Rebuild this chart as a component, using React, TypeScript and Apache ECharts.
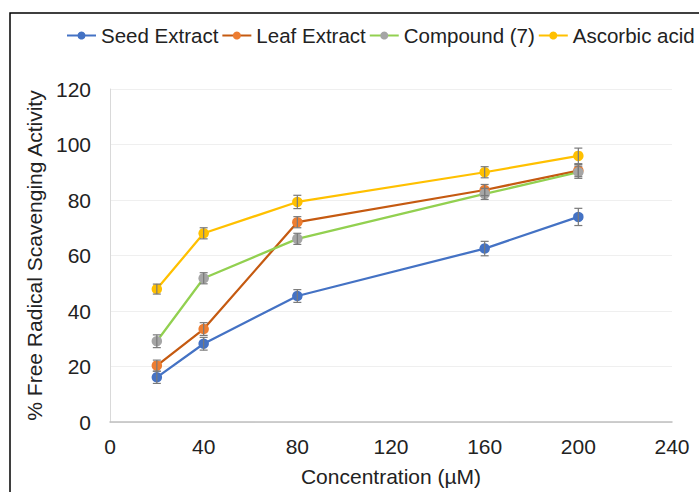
import React, { useEffect, useRef } from "react";
import * as echarts from "echarts";

const concentrations = [20, 40, 80, 160, 200];
const seriesNames = ["Seed Extract", "Leaf Extract", "Compound (7)", "Ascorbic acid"];
const seedValues = [16.1, 28.2, 45.4, 62.5, 73.9];
const leafValues = [20.3, 33.5, 72.0, 83.6, 90.6];
const compoundValues = [29.1, 51.8, 66.0, 82.2, 90.0];
const ascorbicValues = [47.9, 68.0, 79.3, 90.0, 95.9];
const seedErrors = [2.2, 2.3, 2.3, 2.6, 3.1];
const leafErrors = [2.0, 2.3, 2.0, 2.0, 2.2];
const compoundErrors = [2.3, 2.0, 2.0, 2.0, 2.2];
const ascorbicErrors = [1.8, 2.0, 2.4, 2.0, 2.8];
const lineColors = ["#4472C4", "#C55A11", "#92D050", "#FFC000"];
const markerColors = ["#4472C4", "#ED7D31", "#A5A5A5", "#FFC000"];

const FONT = "'Liberation Sans', Arial, sans-serif";

export default function App() {
  const ref = useRef<HTMLDivElement>(null);
  useEffect(() => {
    if (!ref.current) return;
    const chart = echarts.init(ref.current, null, { renderer: "svg" });
    const values = [seedValues, leafValues, compoundValues, ascorbicValues];
    const errors = [seedErrors, leafErrors, compoundErrors, ascorbicErrors];

    const lineSeries = values.map((vals, i) => ({
      name: seriesNames[i],
      type: "line",
      data: concentrations.map((c, j) => [c, vals[j]]),
      symbol: "circle",
      symbolSize: 10.5,
      lineStyle: { color: lineColors[i], width: 2.25 },
      itemStyle: { color: markerColors[i] },
      z: 2,
    }));

    const errorSeries = values.map((vals, i) => ({
      type: "custom",
      name: "err" + i,
      data: concentrations.map((c, j) => [c, vals[j] - errors[i][j], vals[j] + errors[i][j]]),
      renderItem: (params: any, api: any) => {
        const lo = api.coord([api.value(0), api.value(1)]);
        const hi = api.coord([api.value(0), api.value(2)]);
        const w = 4;
        const style = { stroke: "#7a7a7a", lineWidth: 1.2 };
        return {
          type: "group",
          children: [
            { type: "line", shape: { x1: lo[0], y1: lo[1], x2: hi[0], y2: hi[1] }, style },
            { type: "line", shape: { x1: lo[0] - w, y1: lo[1], x2: lo[0] + w, y2: lo[1] }, style },
            { type: "line", shape: { x1: hi[0] - w, y1: hi[1], x2: hi[0] + w, y2: hi[1] }, style },
          ],
        };
      },
      z: 3,
      silent: true,
    }));

    chart.setOption({
      animation: false,
      backgroundColor: "#ffffff",
      textStyle: { fontFamily: FONT },
      graphic: [
        {
          type: "rect",
          shape: { x: 10, y: 13, width: 800, height: 600 },
          style: { fill: "none", stroke: "#000000", lineWidth: 1.5 },
          z: -1,
        },
      ],
      legend: {
        data: seriesNames,
        top: 25,
        left: 66,
        padding: 0,
        width: 660,
        itemWidth: 29,
        itemHeight: 10,
        itemGap: 3,
        textStyle: { fontSize: 20.5, color: "#222222", fontFamily: FONT },
      },
      grid: { left: 110, right: 27, top: 89, bottom: 69 },
      xAxis: {
        type: "value",
        min: 0,
        max: 240,
        interval: 40,
        name: "Concentration (µM)",
        nameLocation: "middle",
        nameGap: 44,
        nameTextStyle: { fontSize: 21, color: "#222222", fontFamily: FONT },
        axisLine: { show: true, lineStyle: { color: "#bfbfbf", width: 1.5 } },
        axisTick: { show: false },
        axisLabel: { fontSize: 21, color: "#222222", margin: 14, fontFamily: FONT },
        splitLine: { show: false },
      },
      yAxis: {
        type: "value",
        min: 0,
        max: 120,
        interval: 20,
        name: "% Free Radical Scavenging Activity",
        nameLocation: "middle",
        nameGap: 62,
        nameTextStyle: { fontSize: 21, color: "#222222", fontFamily: FONT },
        axisLine: { show: true, lineStyle: { color: "#d9d9d9", width: 1 } },
        axisTick: { show: false },
        axisLabel: { fontSize: 21, color: "#222222", margin: 19, fontFamily: FONT },
        splitLine: { show: true, lineStyle: { color: "#efefef", width: 1 } },
      },
      series: [...lineSeries, ...errorSeries],
    });
    return () => chart.dispose();
  }, []);
  return (
    <div
      ref={ref}
      style={{ position: "fixed", left: 0, top: 0, width: 699, height: 492 }}
    />
  );
}
